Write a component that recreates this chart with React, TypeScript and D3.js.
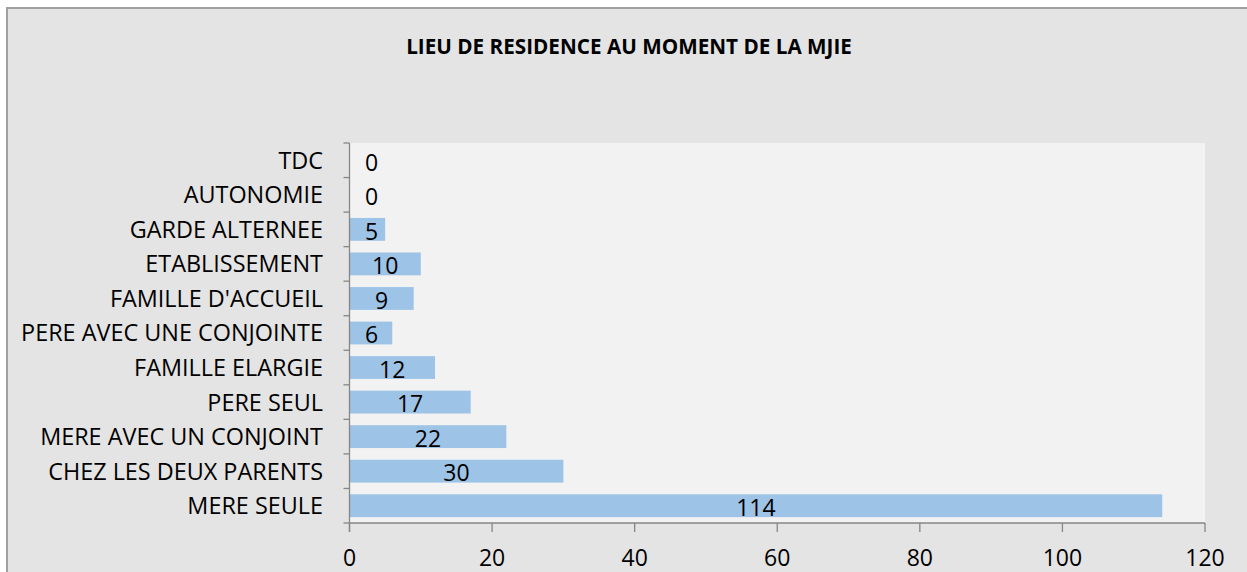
import React from "react";
import * as d3 from "d3";

const title = "LIEU DE RESIDENCE AU MOMENT DE LA MJIE";
const categories = [
  "TDC",
  "AUTONOMIE",
  "GARDE ALTERNEE",
  "ETABLISSEMENT",
  "FAMILLE D'ACCUEIL",
  "PERE AVEC UNE CONJOINTE",
  "FAMILLE ELARGIE",
  "PERE SEUL",
  "MERE AVEC UN CONJOINT",
  "CHEZ LES DEUX PARENTS",
  "MERE SEULE",
];
const values = [0, 0, 5, 10, 9, 6, 12, 17, 22, 30, 114];
const xTicks = [0, 20, 40, 60, 80, 100, 120];

const W = 1247;
const H = 572;
const FONT = "'Open Sans', Lato, sans-serif";

export default function App() {
  const plot = { left: 349.5, right: 1205, top: 143, bottom: 523 };
  const x = d3.scaleLinear().domain([0, 120]).range([plot.left, plot.right]);
  const y = d3
    .scaleBand<string>()
    .domain(categories)
    .range([plot.top, plot.bottom])
    .paddingInner(0.34)
    .paddingOuter(0.17);
  const step = (plot.bottom - plot.top) / categories.length;
  const boundaries = d3.range(categories.length + 1).map((i) => plot.top + i * step);
  const axisColor = "#868686";

  return (
    <svg
      width={W}
      height={H}
      style={{ position: "absolute", left: 0, top: 0 }}
      fontFamily={FONT}
    >
      <rect x={0} y={0} width={W} height={H} fill="#ffffff" />
      <rect x={7} y={8} width={W + 10} height={H + 10} fill="#e4e4e4" stroke="#a0a0a0" strokeWidth={2} />
      <text
        x={629}
        y={54}
        textAnchor="middle"
        fontWeight="bold"
        fontSize={20.7}
        fill="#000"
      >
        {title}
      </text>
      <rect
        x={plot.left}
        y={plot.top}
        width={plot.right - plot.left}
        height={plot.bottom - plot.top}
        fill="#f2f2f2"
      />
      {categories.map((c, i) => (
        <rect
          key={c}
          x={x(0)}
          y={y(c)!}
          width={x(values[i]) - x(0)}
          height={y.bandwidth()}
          fill="#9dc3e6"
        />
      ))}
      {/* y axis */}
      <line x1={plot.left} x2={plot.left} y1={plot.top} y2={plot.bottom + 9} stroke={axisColor} strokeWidth={1.3} />
      {boundaries.map((b, i) => (
        <line key={i} x1={plot.left - 6} x2={plot.left} y1={b} y2={b} stroke={axisColor} strokeWidth={1.3} />
      ))}
      {/* x axis */}
      <line x1={plot.left} x2={plot.right} y1={plot.bottom} y2={plot.bottom} stroke={axisColor} strokeWidth={1.3} />
      {xTicks.map((t) => (
        <g key={t}>
          <line x1={x(t)} x2={x(t)} y1={plot.bottom} y2={plot.bottom + 9} stroke={axisColor} strokeWidth={1.3} />
          <text x={x(t)} y={566} textAnchor="middle" fontSize={23} fill="#000">
            {t}
          </text>
        </g>
      ))}
      {categories.map((c, i) => (
        <text
          key={c}
          x={323}
          y={y(c)! + y.bandwidth() / 2}
          dy="0.36em"
          textAnchor="end"
          fontSize={23.4}
          fill="#000"
        >
          {c}
        </text>
      ))}
      {categories.map((c, i) => {
        const cx = Math.max((x(0) + x(values[i])) / 2, x(0) + 22);
        return (
          <text
            key={"v" + c}
            x={cx}
            y={y(c)! + y.bandwidth() / 2 + 2}
            dy="0.36em"
            textAnchor="middle"
            fontSize={23}
            fill="#000"
          >
            {values[i]}
          </text>
        );
      })}
    </svg>
  );
}
